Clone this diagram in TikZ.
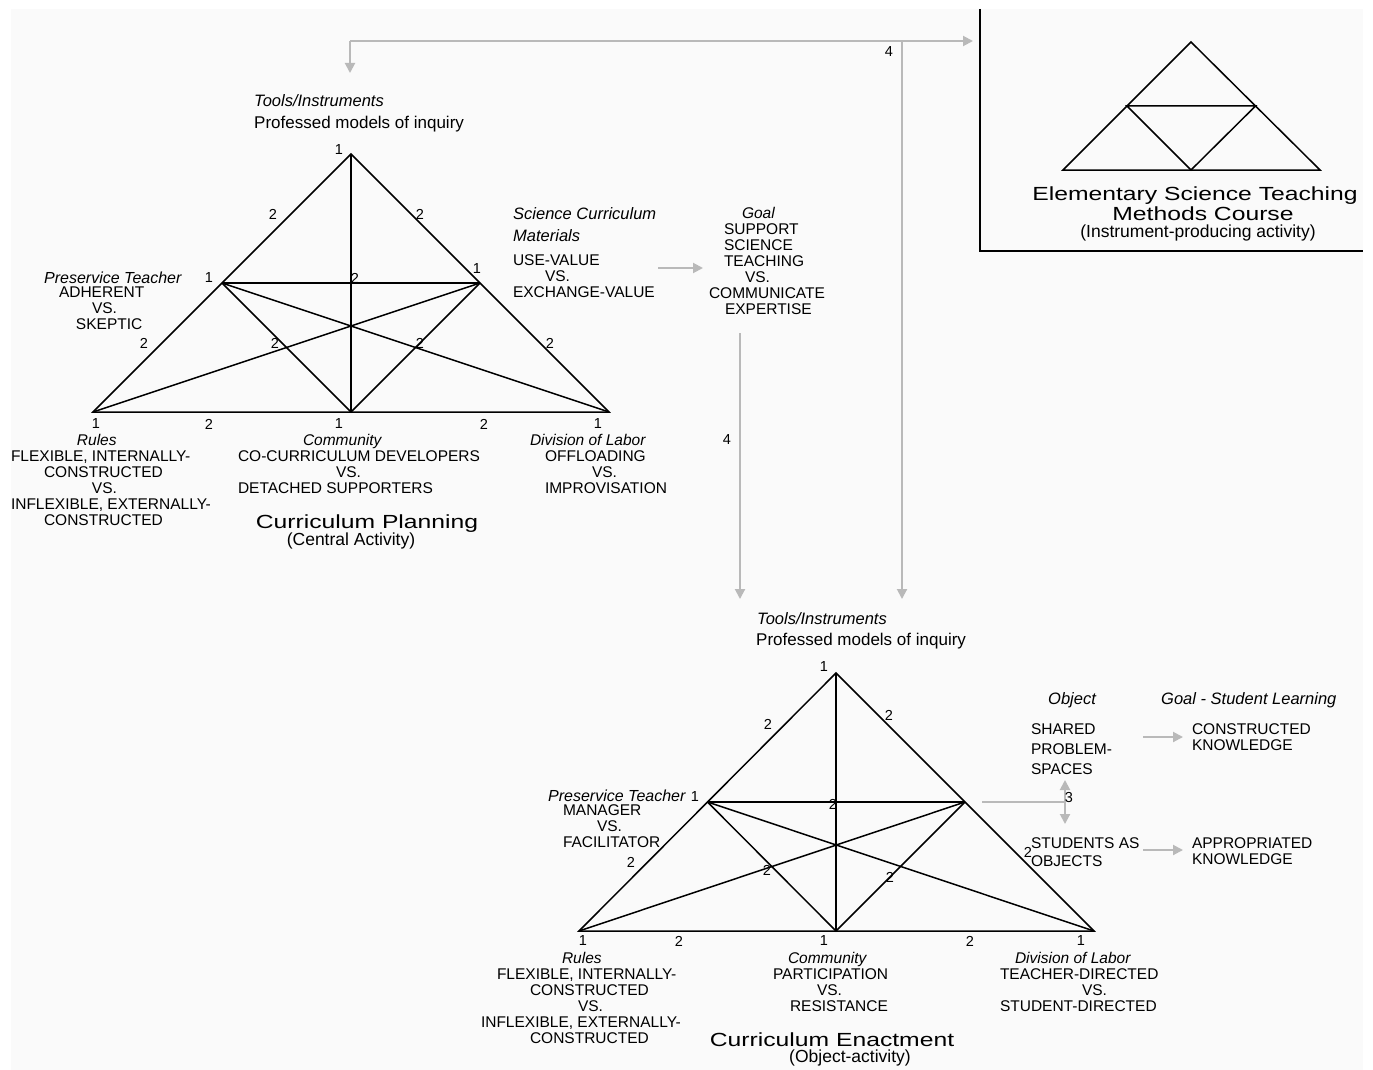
\documentclass[tikz,border=0pt]{standalone}
\usepackage{fontspec}
\setmainfont{Liberation Sans}
\newfontfamily\titlefont[FakeStretch=1.3]{Liberation Sans}
\usetikzlibrary{arrows.meta}
\definecolor{bgc}{RGB}{250,250,250}
\definecolor{arr}{RGB}{185,185,185}
\begin{document}
\begin{tikzpicture}[x=1pt,y=-1pt,
  tri/.style={line width=1.5pt, line join=miter},
  garrow/.style={draw=arr, line width=2pt, -{Triangle[length=10pt,width=10pt]}},
  gdouble/.style={draw=arr, line width=2pt, {Triangle[length=10pt,width=10pt]}-{Triangle[length=10pt,width=10pt]}},
  gline/.style={draw=arr, line width=2pt},
  caps/.style={font=\fontsize{15.5}{16}\selectfont, inner sep=0pt, outer sep=0pt, align=left, anchor=north west},
  ital/.style={font=\fontsize{16.5}{22}\selectfont\itshape, inner sep=0pt, align=left, anchor=north west},
  reg/.style={font=\fontsize{17}{20}\selectfont, inner sep=0pt, anchor=north west},
  num/.style={font=\fontsize{14.5}{15}\selectfont, inner sep=0pt},
  ttl/.style={font=\titlefont\fontsize{19}{20}\selectfont, inner sep=0pt, anchor=base},
  sub/.style={font=\fontsize{17.5}{18}\selectfont, inner sep=0pt, anchor=base},
]
\useasboundingbox (0,0) rectangle (1373,1070);
\fill[bgc] (11,9) rectangle (1363,1070);

% ---------- top triangle: Curriculum Planning ----------
\coordinate (pA) at (351,154);
\coordinate (pL) at (93,412);
\coordinate (pR) at (609,412);
\coordinate (pB) at (351,412);
\coordinate (pML) at (222,283);
\coordinate (pMR) at (480,283);
\draw[tri] (pA) -- (pL) -- (pR) -- cycle;
\draw[tri] (pA) -- (pB);
\draw[tri] (pML) -- (pMR);
\draw[tri] (pML) -- (pB) -- (pMR);
\draw[tri] (pML) -- (pR);
\draw[tri] (pMR) -- (pL);

\node[num] (pn1) at (339,150) {1};
\node[num] (pn2) at (273,214) {2};
\node[num] (pn3) at (420,214) {2};
\node[num] (pn4) at (209,278) {1};
\node[num] (pn5) at (355,278) {2};
\node[num] (pn6) at (477,269) {1};
\node[num] (pn7) at (144,343) {2};
\node[num] (pn8) at (275,343) {2};
\node[num] (pn9) at (420,343) {2};
\node[num] (pn10) at (550,343) {2};
\node[num] (pn11) at (96,424) {1};
\node[num] (pn12) at (209,424) {2};
\node[num] (pn13) at (339,424) {1};
\node[num] (pn14) at (484,424) {2};
\node[num] (pn15) at (598,424) {1};

\node[ital] (pTools) at (254,94) {Tools/Instruments};
\node[reg] (pProf) at (254,116) {Professed models of inquiry};
\node[ital, font=\fontsize{16}{20}\selectfont\itshape] (pTeach) at (44,272) {Preservice Teacher};
\node[caps] (pTeachB) at (59,287) {ADHERENT\\\hspace*{33pt}VS.\\\hspace*{17pt}SKEPTIC};
\node[ital] (pMat) at (513,207) {Science Curriculum\\Materials};
\node[caps] (pMatB) at (513,255) {USE-VALUE\\\hspace*{32pt}VS.\\EXCHANGE-VALUE};
\node[caps] (pGoal) at (709,207) {\hspace*{33pt}\textit{Goal}\\\hspace*{15pt}SUPPORT\\\hspace*{15pt}SCIENCE\\\hspace*{15pt}TEACHING\\\hspace*{36pt}VS.\\COMMUNICATE\\\hspace*{16pt}EXPERTISE};
\node[caps] (pRules) at (11,434) {\hspace*{66pt}\textit{Rules}\\FLEXIBLE, INTERNALLY-\\\hspace*{33pt}CONSTRUCTED\\\hspace*{81pt}VS.\\INFLEXIBLE, EXTERNALLY-\\\hspace*{33pt}CONSTRUCTED};
\node[caps] (pComm) at (238,434) {\hspace*{65pt}\textit{Community}\\CO-CURRICULUM DEVELOPERS\\\hspace*{98pt}VS.\\DETACHED SUPPORTERS};
\node[caps] (pDiv) at (530,434) {\textit{Division of Labor}\\\hspace*{15pt}OFFLOADING\\\hspace*{62pt}VS.\\\hspace*{15pt}IMPROVISATION};
\node[ttl] (pTitle) at (367,528) {Curriculum Planning};
\node[sub] (pSub) at (351,545) {(Central Activity)};

% ---------- small triangle: Methods course ----------
\draw[line width=1.5pt] (980,9) -- (980,251) -- (1363,251);
\coordinate (mA) at (1191,42);
\coordinate (mL) at (1063,170);
\coordinate (mR) at (1320,170);
\coordinate (mB) at (1191,170);
\coordinate (mML) at (1127,106);
\coordinate (mMR) at (1255.5,106);
\draw[tri] (mA) -- (mL) -- (mR) -- cycle;
\draw[tri] (mML) -- (mMR) -- (mB) -- cycle;
\node[ttl] (mT1) at (1195,200) {Elementary Science Teaching};
\node[ttl] (mT2) at (1203,220) {Methods Course};
\node[sub] (mT3) at (1198,237) {(Instrument-producing activity)};

% ---------- bottom triangle: Curriculum Enactment ----------
\coordinate (eA) at (836,673);
\coordinate (eL) at (579,931);
\coordinate (eR) at (1094,931);
\coordinate (eB) at (836,931);
\coordinate (eML) at (707.5,802);
\coordinate (eMR) at (965,802);
\draw[tri] (eA) -- (eL) -- (eR) -- cycle;
\draw[tri] (eA) -- (eB);
\draw[tri] (eML) -- (eMR);
\draw[tri] (eML) -- (eB) -- (eMR);
\draw[tri] (eML) -- (eR);
\draw[tri] (eMR) -- (eL);

\node[num] (en1) at (824,667) {1};
\node[num] (en2) at (768,724) {2};
\node[num] (en3) at (889,715) {2};
\node[num] (en4) at (695,797) {1};
\node[num] (en5) at (833,804) {2};
\node[num] (en6) at (631,862) {2};
\node[num] (en7) at (767,870) {2};
\node[num] (en8) at (890,877) {2};
\node[num] (en9) at (1028,852) {2};
\node[num] (en10) at (583,941) {1};
\node[num] (en11) at (679,941) {2};
\node[num] (en12) at (824,941) {1};
\node[num] (en13) at (970,941) {2};
\node[num] (en14) at (1081,941) {1};

\node[ital] (eTools) at (757,612) {Tools/Instruments};
\node[reg] (eProf) at (756,633) {Professed models of inquiry};
\node[ital, font=\fontsize{16}{20}\selectfont\itshape] (eTeach) at (548,790) {Preservice Teacher};
\node[caps] (eTeachB) at (563,805) {MANAGER\\\hspace*{34pt}VS.\\FACILITATOR};
\node[ital] (eObj) at (1048,692) {Object};
\node[ital] (eGoal) at (1161,692) {Goal - Student Learning};
\node[caps, font=\fontsize{15.5}{20}\selectfont] (eShared) at (1031,724) {SHARED\\PROBLEM-\\SPACES};
\node[caps] (eConst) at (1192,724) {CONSTRUCTED\\KNOWLEDGE};
\node[caps, font=\fontsize{15.5}{18}\selectfont] (eStud) at (1031,838) {STUDENTS AS\\OBJECTS};
\node[caps] (eAppr) at (1192,838) {APPROPRIATED\\KNOWLEDGE};
\node[caps] (eRules) at (481,952) {\hspace*{81pt}\textit{Rules}\\\hspace*{16pt}FLEXIBLE, INTERNALLY-\\\hspace*{49pt}CONSTRUCTED\\\hspace*{97pt}VS.\\INFLEXIBLE, EXTERNALLY-\\\hspace*{49pt}CONSTRUCTED};
\node[caps] (eComm) at (773,952) {\hspace*{15pt}\textit{Community}\\PARTICIPATION\\\hspace*{44pt}VS.\\\hspace*{17pt}RESISTANCE};
\node[caps] (eDiv) at (1000,952) {\hspace*{15pt}\textit{Division of Labor}\\TEACHER-DIRECTED\\\hspace*{82pt}VS.\\STUDENT-DIRECTED};
\node[ttl] (eTitle) at (832,1046) {Curriculum Enactment};
\node[sub] (eSub) at (850,1062) {(Object-activity)};

% ---------- grey connectors ----------
\coordinate (cTopL) at (350,41);
\coordinate (cTopTip) at (350,73);
\coordinate (cTopR) at (973,41);
\coordinate (cJoin) at (902,41);
\coordinate (cDownTip) at (902,599);
\coordinate (gStart) at (740,333);
\coordinate (gTip) at (740,599);
\coordinate (uvS) at (658,268);
\coordinate (uvT) at (703,268);
\draw[garrow] (cTopL) -- (cTopTip);
\draw[garrow] (cTopL) -- (cTopR);
\draw[garrow] (cJoin) -- (cDownTip);
\draw[garrow] (gStart) -- (gTip);
\draw[garrow] (uvS) -- (uvT);
\node[num] (four1) at (889,52) {4};
\node[num] (four2) at (727,440) {4};

\coordinate (oS) at (982,802);
\coordinate (oJ) at (1065,802);
\coordinate (oUp) at (1065,780);
\coordinate (oDn) at (1065,824);
\draw[gline] (oS) -- (oJ);
\draw[gdouble] (oUp) -- (oDn);
\node[num] (three) at (1069,797) {3};
\coordinate (a1S) at (1143,737);
\coordinate (a1T) at (1183,737);
\coordinate (a2S) at (1143,850);
\coordinate (a2T) at (1183,850);
\draw[garrow] (a1S) -- (a1T);
\draw[garrow] (a2S) -- (a2T);
\end{tikzpicture}
\end{document}
